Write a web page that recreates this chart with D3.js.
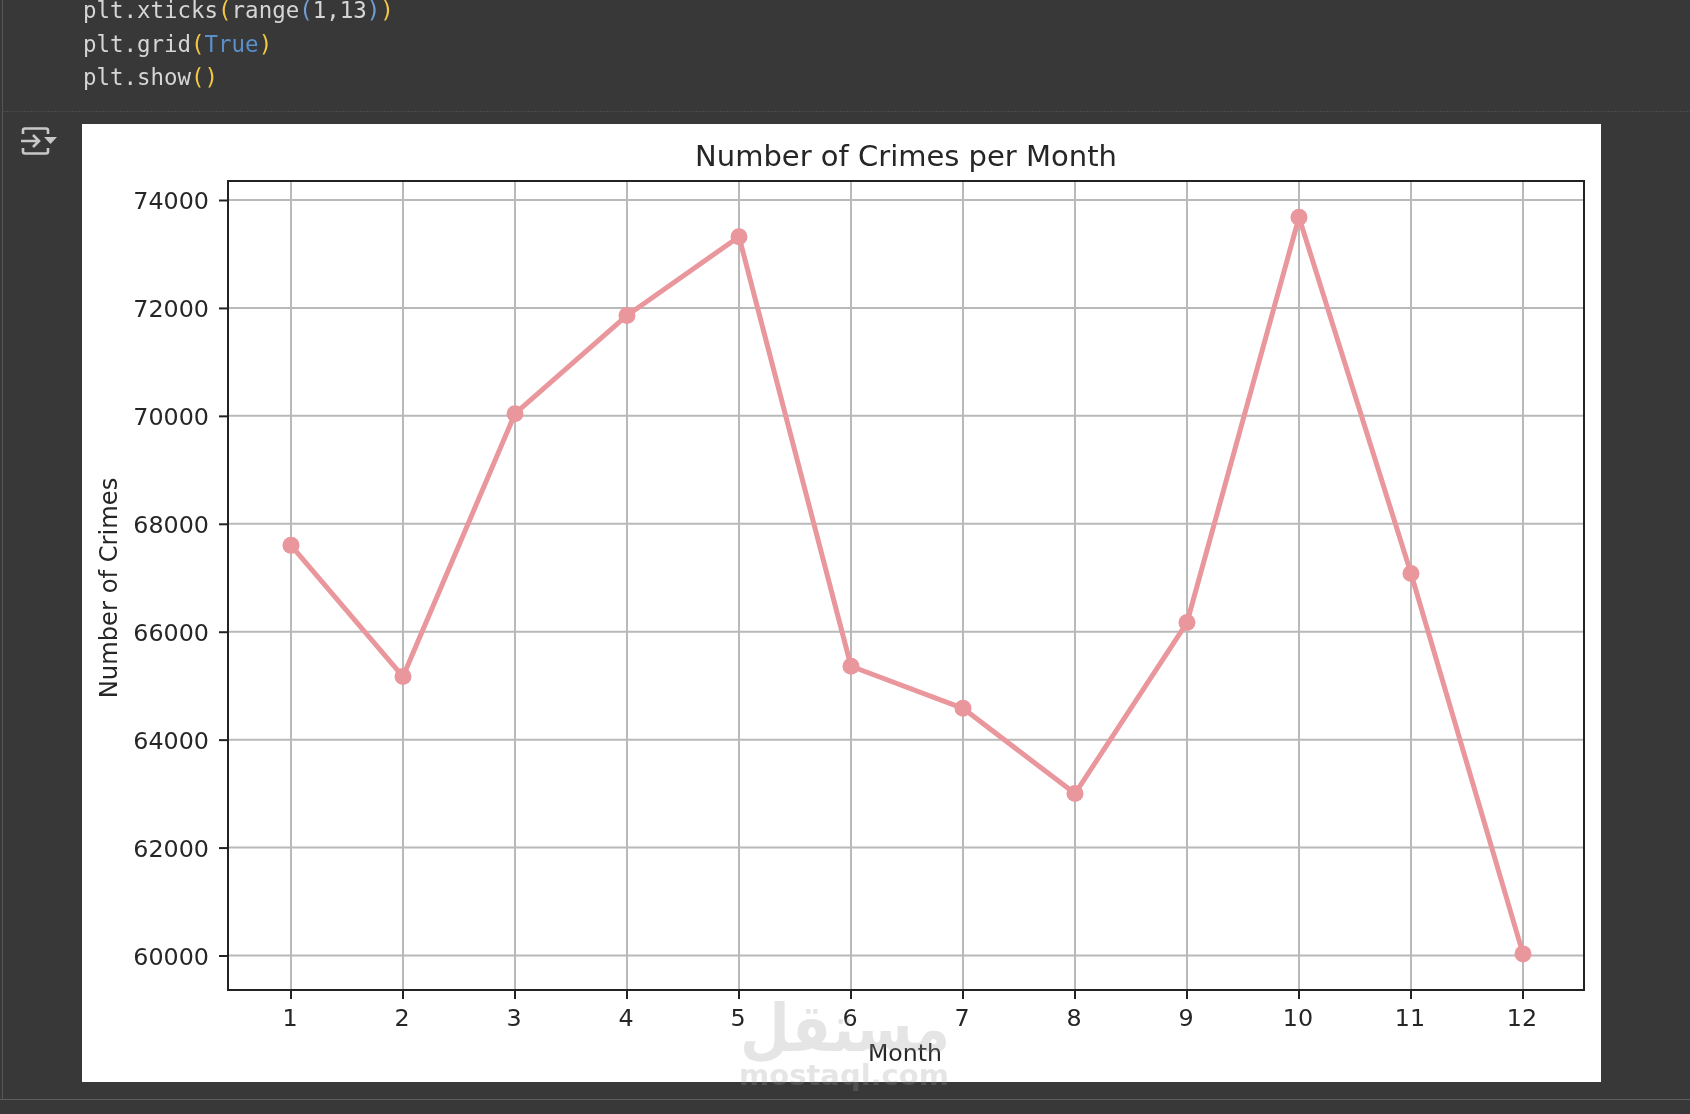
<!DOCTYPE html>
<html><head><meta charset="utf-8">
<script src="https://cdnjs.cloudflare.com/ajax/libs/d3/7.8.5/d3.min.js"></script>
<style>html,body{margin:0;padding:0;background:#383838;overflow:hidden}svg{display:block;filter:blur(0.45px)}</style>
</head><body><svg id="c" width="1690" height="1114"></svg>
<script>
const months = [1,2,3,4,5,6,7,8,9,10,11,12];
const crimes = [67600,65170,70040,71860,73320,65360,64580,63000,66170,73680,67080,60030];
const yTicks = [60000,62000,64000,66000,68000,70000,72000,74000];
const chartTitle = "Number of Crimes per Month";
const xTitle = "Month";
const yTitle = "Number of Crimes";
const codeLines = [
  [["plt.xticks","#d6d6d6"],["(","#f2c744"],["range","#d6d6d6"],["(","#6f9fd8"],["1,13","#d6d6d6"],[")","#6f9fd8"],[")","#f2c744"]],
  [["plt.grid","#d6d6d6"],["(","#f2c744"],["True","#5b8fc9"],[")","#f2c744"]],
  [["plt.show","#d6d6d6"],["()","#f2c744"]]
];

const svg = d3.select("#c");
const font = "'DejaVu Sans', sans-serif";
const box = {l:228,t:181,r:1584,b:990};

// notebook chrome
svg.append("rect").attr("width",1690).attr("height",1114).attr("fill","#383838");
svg.append("line").attr("x1",2.5).attr("x2",2.5).attr("y1",0).attr("y2",1100).attr("stroke","#555");
svg.append("line").attr("x1",3).attr("x2",1690).attr("y1",111.5).attr("y2",111.5).attr("stroke","#4a4a4a").attr("stroke-dasharray","2 1");
svg.append("line").attr("x1",0).attr("x2",1690).attr("y1",1099.5).attr("y2",1099.5).attr("stroke","#5e5e5e");

const code = svg.append("g").attr("font-family","'DejaVu Sans Mono', monospace").attr("font-size",22.45);
codeLines.forEach((ln,i)=>{
  const t = code.append("text").attr("x",83).attr("y",[18,52,85][i]).attr("xml:space","preserve");
  ln.forEach(s=>t.append("tspan").attr("fill",s[1]).text(s[0]));
});

// output toggle icon
const ic = svg.append("g").attr("fill","none").attr("stroke","#c8c8c8").attr("stroke-width",2.6);
ic.append("path").attr("d","M23 134v-3.5q0-2 2-2h21q2 0 2 2v3.5");
ic.append("path").attr("d","M23 148v3.5q0 2 2 2h21q2 0 2-2v-3.5");
ic.append("path").attr("d","M21 141h18M33 135l6 6l-6 6");
svg.append("path").attr("d","M44 137h13l-6.5 7z").attr("fill","#c8c8c8");

// figure
svg.append("rect").attr("x",82).attr("y",124).attr("width",1519).attr("height",958).attr("fill","#fff");

const x = d3.scaleLinear().domain([1,12]).range([291,1523]);
const y = d3.scaleLinear().domain([60000,74000]).range([955.5,200]);

const g = svg.append("g");
g.append("g").selectAll("line").data(months).join("line")
  .attr("x1",d=>x(d)).attr("x2",d=>x(d)).attr("y1",box.t).attr("y2",box.b)
  .attr("stroke","#b9b9b9").attr("stroke-width",2);
g.append("g").selectAll("line").data(yTicks).join("line")
  .attr("x1",box.l).attr("x2",box.r).attr("y1",d=>y(d)).attr("y2",d=>y(d))
  .attr("stroke","#b9b9b9").attr("stroke-width",2);

const line = d3.line().x((d,i)=>x(months[i])).y(d=>y(d));
g.append("path").datum(crimes).attr("d",line).attr("fill","none")
  .attr("stroke","#e9969c").attr("stroke-width",5).attr("stroke-linejoin","round");
g.append("g").selectAll("circle").data(crimes).join("circle")
  .attr("cx",(d,i)=>x(months[i])).attr("cy",d=>y(d)).attr("r",8.5).attr("fill","#e9969c");

g.append("rect").attr("x",box.l).attr("y",box.t).attr("width",box.r-box.l).attr("height",box.b-box.t)
  .attr("fill","none").attr("stroke","#222").attr("stroke-width",2);

const xAxis = d3.axisBottom(x).tickValues(months).tickFormat(d3.format("d")).tickSize(9).tickSizeOuter(0).tickPadding(10);
const xg = svg.append("g").attr("transform",`translate(0,${box.b})`).call(xAxis);
xg.select(".domain").remove();
const yScaleAxis = d3.axisLeft(y).tickValues(yTicks).tickFormat(d3.format("d")).tickSize(9).tickSizeOuter(0).tickPadding(10);
const yg = svg.append("g").attr("transform",`translate(${box.l},0)`).call(yScaleAxis);
yg.select(".domain").remove();
[xg,yg].forEach(a=>{
  a.attr("font-family",font).attr("font-size",23.8);
  a.selectAll("text").attr("fill","#262626");
  a.selectAll("line").attr("stroke","#222").attr("stroke-width",2);
});
yg.selectAll("text").attr("dy","0.36em");
xg.selectAll(".tick").attr("transform",d=>`translate(${x(d)-1},0)`);
xg.selectAll(".tick line").attr("x1",1).attr("x2",1);

svg.append("text").attr("x",906).attr("y",166).attr("text-anchor","middle").attr("font-family",font)
  .attr("font-size",29).attr("fill","#262626").text(chartTitle);
svg.append("text").attr("x",905).attr("y",1061).attr("text-anchor","middle").attr("font-family",font)
  .attr("font-size",23.6).attr("fill","#262626").text(xTitle);
svg.append("text").attr("transform","translate(117,588) rotate(-90)").attr("text-anchor","middle").attr("font-family",font)
  .attr("font-size",24.2).attr("fill","#262626").text(yTitle);

// watermark
const wm = svg.append("g").attr("fill","#9a9a9a").attr("opacity",0.25).attr("font-family",font).attr("font-weight","bold").attr("text-anchor","middle");
wm.append("text").attr("transform","translate(845,1051) scale(0.755,0.87)").attr("font-size",76).attr("direction","rtl").text("مستقل");
wm.append("text").attr("x",844).attr("y",1085).attr("font-size",29).text("mostaql.com");
</script></body></html>
